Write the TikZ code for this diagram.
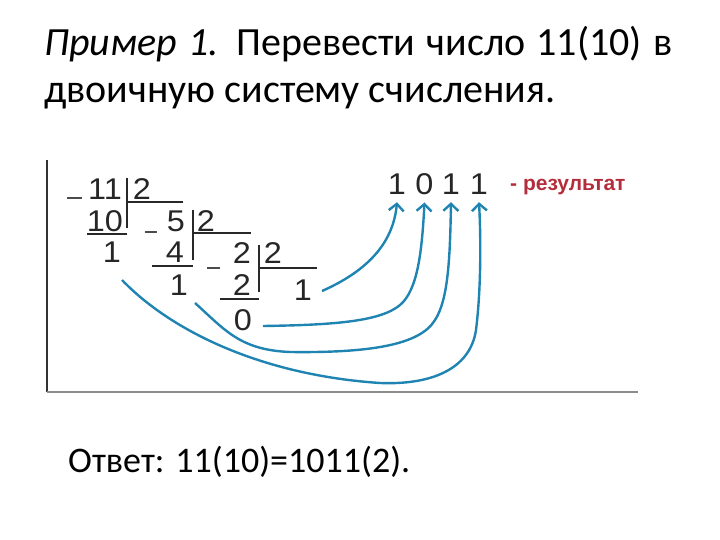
\documentclass[tikz,border=0pt]{standalone}
\usepackage{fontspec}
\setmainfont{Carlito}
\newfontfamily\arialf{Liberation Sans}
\usetikzlibrary{arrows.meta}
\definecolor{arrowc}{RGB}{32,132,178}
\definecolor{resred}{RGB}{180,45,60}
\definecolor{rulegray}{RGB}{40,40,40}
\newcommand{\widedig}[1]{\scalebox{1.08}[1]{#1}}
\begin{document}
\begin{tikzpicture}[x=1pt,y=-1pt,
  dig/.style={inner sep=0pt,anchor=base,font=\arialf\fontsize{30}{30}\selectfont,text=black!85},
  rule/.style={draw=rulegray,line width=1.3pt},
  minus/.style={draw=black!70,line width=1.6pt},
  conn/.style={draw=arrowc,line width=2.4pt,-{Straight Barb[length=7pt,width=15pt,line width=2.4pt]}},
  title/.style={inner sep=0pt,anchor=base west,font=\fontsize{40}{40}\selectfont}]
\useasboundingbox (0,0) rectangle (720,540);
% title
\node[title] (t1) at (44,56) {\makebox[628pt][s]{\textit{Пример 1.} Перевести число 11(10) в}};
\node[title] (t2) at (44,103) {двоичную систему счисления.};
% frame
\draw[draw=black!80,line width=1.5pt] (47,160) -- (47,392);
\draw[draw=black!45,line width=1.2pt] (47,392) -- (638,392);
% division 1
\node[dig] (a11) at (105,200) {\widedig{11}};
\node[dig] (a2) at (142,200) {\widedig{2}};
\node[dig] (a10) at (105,232) {\widedig{10}};
\node[dig] (a1) at (112,262) {\widedig{1}};
\draw[minus] (67,198) -- (82,198);
\draw[rule] (127,178) -- (127,228);
\draw[rule] (127,202) -- (183,202);
\draw[rule] (87,234) -- (127,234);
% division 2
\node[dig] (b5) at (176,232) {\widedig{5}};
\node[dig] (b2) at (206,232) {\widedig{2}};
\node[dig] (b4) at (175,262) {\widedig{4}};
\node[dig] (b1) at (179,295) {\widedig{1}};
\draw[minus] (145,232) -- (157,232);
\draw[rule] (193,210) -- (193,260);
\draw[rule] (193,233) -- (251,233);
\draw[rule] (152,266) -- (193,266);
% division 3
\node[dig] (c2) at (242,263) {\widedig{2}};
\node[dig] (c2r) at (273,263) {\widedig{2}};
\node[dig] (c2b) at (242,295) {\widedig{2}};
\node[dig] (c0) at (243,330) {\widedig{0}};
\node[dig] (c1) at (303,300) {\widedig{1}};
\draw[minus] (207,268) -- (220,268);
\draw[rule] (259,245) -- (259,292);
\draw[rule] (259,268) -- (317,268);
\draw[rule] (220,299) -- (259,299);
% result
\node[dig] (r1) at (397,195) {\widedig{1}};
\node[dig] (r2) at (424.5,195) {\widedig{0}};
\node[dig] (r3) at (451,195) {\widedig{1}};
\node[dig] (r4) at (479,195) {\widedig{1}};
\node[inner sep=0pt,anchor=base west,font=\arialf\bfseries\fontsize{21}{21}\selectfont,text=resred] (res) at (510,191) {- результат};
% connectors
\coordinate (s1) at (322,291);
\coordinate (s2) at (263,326);
\coordinate (s3) at (195,303);
\coordinate (s4) at (122,280);
\draw[conn] (s1) .. controls (365,272) and (393,245) .. ([yshift=-7pt]r1.south);
\draw[conn] (s2) .. controls (330,325) and (380,322) .. (400,305) .. controls (418,290) and (422,250) .. ([yshift=-7pt]r2.south);
\draw[conn] (s3) .. controls (225,330) and (240,350) .. (290,352) .. controls (370,353) and (420,345) .. (435,320) .. controls (448,300) and (450,260) .. ([yshift=-7pt]r3.south);
\draw[conn] (s4) .. controls (170,330) and (260,375) .. (380,383) .. controls (430,385) and (470,370) .. (476,330) .. controls (481,290) and (481,240) .. ([yshift=-7pt]r4.south);
% answer
\node[inner sep=0pt,anchor=base west,font=\fontsize{36}{36}\selectfont] (ans) at (68,472) {Ответ: 11(10)=1011(2).};
\end{tikzpicture}
\end{document}
